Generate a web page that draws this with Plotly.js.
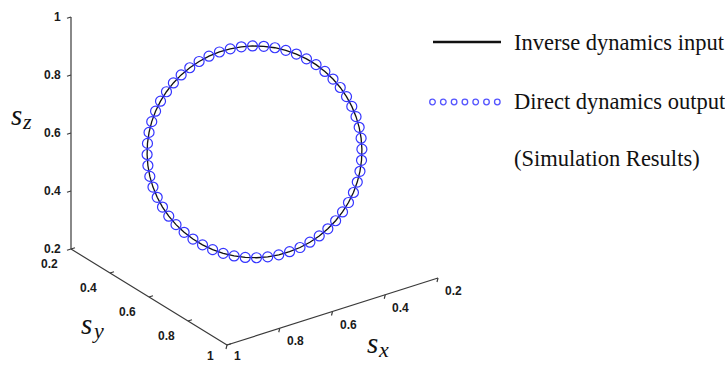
<!DOCTYPE html>
<html>
<head>
<meta charset="utf-8">
<script src="https://cdn.plot.ly/plotly-3.0.1.min.js"></script>
<style>html,body{margin:0;padding:0;background:#fff;}#chart{width:725px;height:366px;}</style>
</head>
<body>
<div id="chart"></div>
<script>
// Trajectory (s_x, s_y, s_z)
const sx = [0.7347,0.7096,0.6833,0.6560,0.6281,0.6000,0.5719,0.5440,0.5167,0.4905,0.4654,0.4417,0.4197,0.3998,0.3821,0.3667,0.3539,0.3438,0.3365,0.3321,0.3306,0.3321,0.3365,0.3438,0.3539,0.3666,0.3821,0.3998,0.4197,0.4416,0.4653,0.4904,0.5167,0.5440,0.5719,0.6000,0.6281,0.6560,0.6833,0.7095,0.7346,0.7583,0.7803,0.8002,0.8179,0.8333,0.8461,0.8562,0.8635,0.8679,0.8694,0.8679,0.8635,0.8562,0.8461,0.8334,0.8179,0.8002,0.7803,0.7584,0.7347];
const sy = [0.7347,0.7584,0.7803,0.8002,0.8179,0.8334,0.8461,0.8562,0.8635,0.8679,0.8694,0.8679,0.8635,0.8562,0.8461,0.8333,0.8179,0.8002,0.7803,0.7583,0.7346,0.7095,0.6833,0.6560,0.6281,0.6000,0.5719,0.5440,0.5167,0.4904,0.4653,0.4416,0.4197,0.3998,0.3821,0.3666,0.3539,0.3438,0.3365,0.3321,0.3306,0.3321,0.3365,0.3438,0.3539,0.3667,0.3821,0.3998,0.4197,0.4417,0.4654,0.4905,0.5167,0.5440,0.5719,0.6000,0.6281,0.6560,0.6833,0.7096,0.7347];
const sz = [0.3156,0.3171,0.3215,0.3288,0.3389,0.3517,0.3671,0.3848,0.4047,0.4266,0.4503,0.4754,0.5018,0.5290,0.5568,0.5850,0.6132,0.6410,0.6682,0.6946,0.7197,0.7434,0.7653,0.7852,0.8029,0.8183,0.8311,0.8412,0.8485,0.8529,0.8544,0.8529,0.8485,0.8412,0.8311,0.8183,0.8029,0.7852,0.7653,0.7434,0.7197,0.6946,0.6682,0.6410,0.6132,0.5850,0.5568,0.5290,0.5018,0.4754,0.4503,0.4266,0.4047,0.3848,0.3671,0.3517,0.3389,0.3288,0.3215,0.3171,0.3156];

const tickVals = [0.2, 0.4, 0.6, 0.8, 1];
const tickText = ['0.2', '0.4', '0.6', '0.8', '1'];
const axisRange = [0.2, 1];
const axisSymbol = 's';
const axisSubs = ['x', 'y', 'z'];
const seriesNames = ['Inverse dynamics input', 'Direct dynamics output'];
const noteText = '(Simulation Results)';

// ---- 3D view (orthographic projection onto the page's x/y scale) ----
const VIEW = {origin: [295.75, 199.25], ex: [-263.75, 83.75], ey: [195, 120], ez: [0, -290]};
function proj(x, y, z) {
  return [VIEW.origin[0] + x * VIEW.ex[0] + y * VIEW.ey[0] + z * VIEW.ez[0],
          VIEW.origin[1] + x * VIEW.ex[1] + y * VIEW.ey[1] + z * VIEW.ez[1]];
}
function projArr(X, Y, Z) {
  const u = [], v = [];
  for (let i = 0; i < X.length; i++) { const p = proj(X[i], Y[i], Z[i]); u.push(p[0]); v.push(p[1]); }
  return {u, v};
}

const W = 725, H = 366;
const lo = axisRange[0], hi = axisRange[1];
const axisColor = '#3a3a3a';
const traces = [];
const annotations = [];
const tickFont = {family: 'Liberation Sans, Arial, sans-serif', size: 12, color: '#1a1a1a', weight: 'bold'};

function seg(p, q) {
  traces.push({type: 'scatter', mode: 'lines', x: [p[0], q[0]], y: [p[1], q[1]],
    line: {color: axisColor, width: 1.2}, hoverinfo: 'skip', showlegend: false});
}
// z axis at (x=hi, y=lo)
seg(proj(hi, lo, lo), proj(hi, lo, hi));
// y axis at (x=hi, z=lo)
seg(proj(hi, lo, lo), proj(hi, hi, lo));
// x axis at (y=hi, z=lo)
seg(proj(hi, hi, lo), proj(lo, hi, lo));

const maxLabelY = 356;
tickVals.forEach((t, i) => {
  const pz = proj(hi, lo, t);
  seg(pz, [pz[0] - 4, pz[1] + 1.3]);
  annotations.push({text: tickText[i], x: pz[0] - 8, y: pz[1], xref: 'x', yref: 'y', xanchor: 'right', yanchor: 'middle', showarrow: false, font: tickFont});
  const py_ = proj(hi, t, lo);
  seg(py_, [py_[0] + 4, py_[1] - 1.3]);
  annotations.push({text: tickText[i], x: py_[0] - 11, y: Math.min(py_[1] + 15, maxLabelY), xref: 'x', yref: 'y', xanchor: 'right', yanchor: 'middle', showarrow: false, font: tickFont});
  const px_ = proj(t, hi, lo);
  seg(px_, [px_[0] - 1, px_[1] + 4]);
  annotations.push({text: tickText[i], x: px_[0] + 5, y: Math.min(px_[1] + 13, maxLabelY), xref: 'x', yref: 'y', xanchor: 'left', yanchor: 'middle', showarrow: false, font: tickFont});
});

const path = projArr(sx, sy, sz);
traces.push({type: 'scatter', mode: 'lines', x: path.u, y: path.v, name: seriesNames[0],
  line: {color: '#111', width: 1.3}, hoverinfo: 'skip', showlegend: false});
traces.push({type: 'scatter', mode: 'markers', x: path.u.slice(0, -1), y: path.v.slice(0, -1), name: seriesNames[1],
  marker: {symbol: 'circle-open', size: 10, color: '#3535ff', line: {color: '#3535ff', width: 1.2}},
  hoverinfo: 'skip', showlegend: false});

// ---- legend & labels (page pixels) ----
const serif = 'Liberation Serif, Times New Roman, serif';
const legFont = {family: serif, size: 22.5, color: '#111'};
annotations.push(
  {text: seriesNames[0], x: 512, y: 42, xref: 'x', yref: 'y', xanchor: 'left', yanchor: 'middle', showarrow: false, font: legFont},
  {text: seriesNames[1], x: 512, y: 101, xref: 'x', yref: 'y', xanchor: 'left', yanchor: 'middle', showarrow: false, font: legFont},
  {text: noteText, x: 512, y: 158, xref: 'x', yref: 'y', xanchor: 'left', yanchor: 'middle', showarrow: false, font: legFont}
);
// axis titles: italic s with a lowered italic subscript
const titlePos = {x: [372, 343], y: [86, 324], z: [16, 115]};
const symFont = {family: serif, size: 29, color: '#111', style: 'italic'};
const subFont = {family: serif, size: 22, color: '#111', style: 'italic'};
axisSubs.forEach(a => {
  const p = titlePos[a];
  annotations.push({text: axisSymbol, x: p[0], y: p[1], xref: 'x', yref: 'y', xanchor: 'center', yanchor: 'middle', showarrow: false, font: symFont});
  annotations.push({text: a, x: p[0] + 4, y: p[1] + 6, xref: 'x', yref: 'y', xanchor: 'left', yanchor: 'middle', showarrow: false, font: subFont});
});

const shapes = [
  {type: 'line', xref: 'x', yref: 'y', x0: 433, x1: 501, y0: 42, y1: 42, line: {color: '#111', width: 2.5}}
];
for (let i = 0; i < 7; i++) {
  const cx = 432.5 + i * 10.8;
  shapes.push({type: 'circle', xref: 'x', yref: 'y', x0: cx - 2.8, x1: cx + 2.8, y0: 102 - 2.8, y1: 102 + 2.8, line: {color: '#5555ff', width: 1.3}});
}

const layout = {
  width: W, height: H,
  margin: {l: 0, r: 0, t: 0, b: 0},
  paper_bgcolor: '#fff', plot_bgcolor: '#fff',
  showlegend: false,
  xaxis: {range: [0, W], visible: false, fixedrange: true},
  yaxis: {range: [H, 0], visible: false, fixedrange: true},
  annotations: annotations,
  shapes: shapes
};

Plotly.newPlot('chart', traces, layout, {displayModeBar: false, staticPlot: true});
</script>
</body>
</html>
